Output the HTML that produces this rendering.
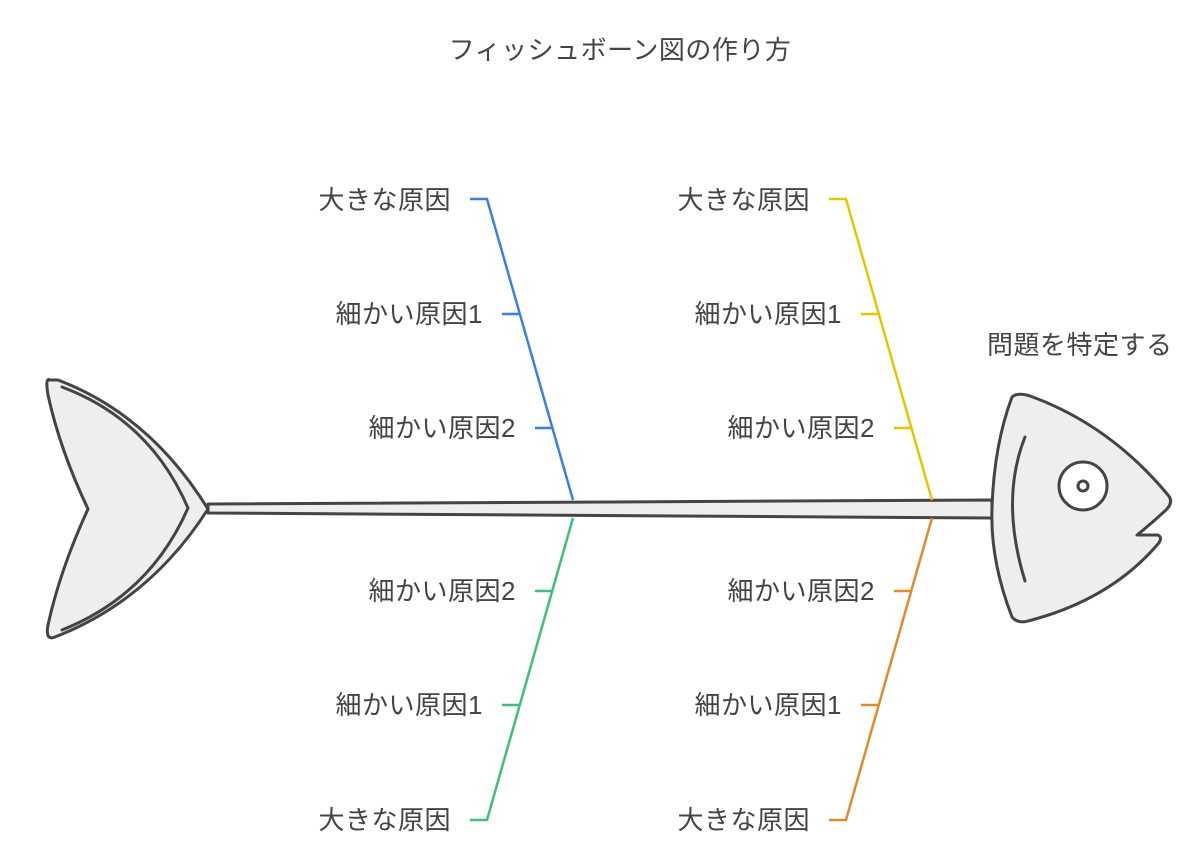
<!DOCTYPE html>
<html><head><meta charset="utf-8"><style>
html,body{margin:0;padding:0;background:#fff;}
svg{display:block;}
text{font-family:"Liberation Sans","Noto Sans CJK JP",sans-serif;font-size:26px;fill:#444;letter-spacing:0.5px;}
</style></head><body>
<svg width="1200" height="856" viewBox="0 0 1200 856" xmlns="http://www.w3.org/2000/svg">
<text x="620" y="59" text-anchor="middle">フィッシュボーン図の作り方</text>
<polygon points="208,504 992,500 992,518 208,513" fill="#eee" stroke="#444" stroke-width="3" stroke-linejoin="round"/>
<path d="M50,380 Q45,377 48,395 Q60,450 88,509 Q60,570 48,625 Q45,641 55,637 Q150,600 208,509 Q150,415 58,380 Z" fill="#eee" stroke="#444" stroke-width="3" stroke-linejoin="round"/>
<path d="M62,387 Q150,420 188,508 Q150,595 62,630" fill="none" stroke="#444" stroke-width="3" stroke-linecap="round"/>
<path d="M1012,397 Q1018,392 1030,396 Q1110,425 1168,495 Q1174,502 1166,510 Q1152,523 1137,535 L1158,535 Q1163,538 1158,544 Q1110,600 1028,621 Q1018,624 1012,617 Q990,560 992,508 Q994,445 1012,397 Z" fill="#eee" stroke="#444" stroke-width="3" stroke-linejoin="round"/>
<path d="M1025,437 Q1000,500 1025,581" fill="none" stroke="#444" stroke-width="3" stroke-linecap="round"/>
<circle cx="1083" cy="486" r="24" fill="#fff" stroke="#444" stroke-width="3"/>
<circle cx="1083" cy="486" r="5" fill="#fff" stroke="#444" stroke-width="3"/>
<text x="987" y="354">問題を特定する</text>
<g stroke="#3b7fe6" stroke-width="2.5" fill="none">
<polyline points="470,199 487,199 573,500"/>
<line x1="502" y1="314" x2="519" y2="314"/>
<line x1="535" y1="428" x2="552" y2="428"/>
</g>
<g stroke="#e3c800" stroke-width="2.5" fill="none">
<polyline points="829,199 846,199 932,500"/>
<line x1="861" y1="314" x2="878" y2="314"/>
<line x1="894" y1="428" x2="911" y2="428"/>
</g>
<g stroke="#3cc07a" stroke-width="2.5" fill="none">
<polyline points="470,820 487,820 573,518"/>
<line x1="502" y1="705" x2="519" y2="705"/>
<line x1="535" y1="591" x2="552" y2="591"/>
</g>
<g stroke="#e08a2c" stroke-width="2.5" fill="none">
<polyline points="829,820 846,820 932,518"/>
<line x1="861" y1="705" x2="878" y2="705"/>
<line x1="894" y1="591" x2="911" y2="591"/>
</g>
<g text-anchor="end">
<text x="451" y="209">大きな原因</text>
<text x="483" y="323">細かい原因1</text>
<text x="516" y="437">細かい原因2</text>
<text x="810" y="209">大きな原因</text>
<text x="842" y="323">細かい原因1</text>
<text x="875" y="437">細かい原因2</text>
<text x="516" y="600">細かい原因2</text>
<text x="483" y="714">細かい原因1</text>
<text x="451" y="829">大きな原因</text>
<text x="875" y="600">細かい原因2</text>
<text x="842" y="714">細かい原因1</text>
<text x="810" y="829">大きな原因</text>
</g>
</svg>
</body></html>
